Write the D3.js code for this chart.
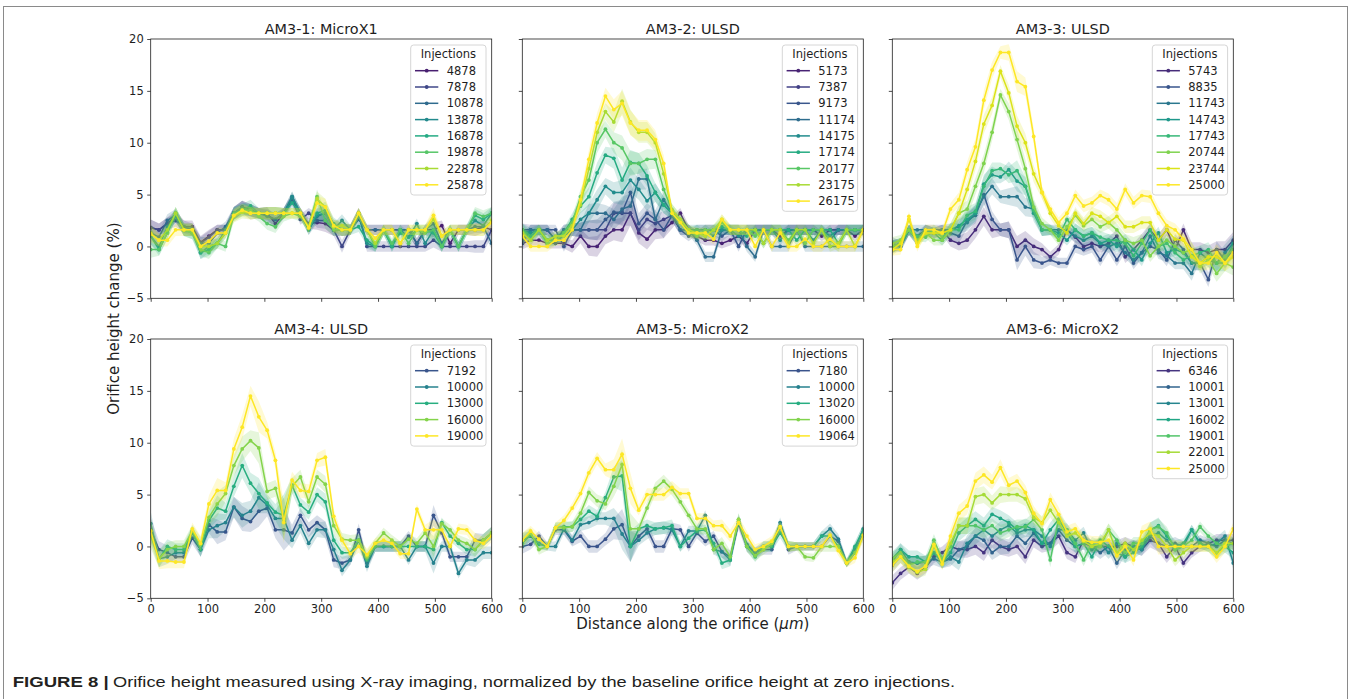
<!DOCTYPE html>
<html>
<head>
<meta charset="utf-8">
<script src="https://cdn.jsdelivr.net/npm/d3@7"></script>
<style>
  body { margin: 0; background: #fff; }
  svg text { font-family: "DejaVu Sans", sans-serif; fill: #1e1e1e; }
  svg text.caption { font-family: "Liberation Sans Narrow", "Liberation Sans", Arial, sans-serif; fill: #231f20; }
</style>
</head>
<body>
<svg id="chart" width="1351" height="699"></svg>
<script>
// Sample positions along the orifice (um), shared by every panel.
const distance = [0,14.6,29.3,43.9,58.5,73.2,87.8,102.4,117.1,131.7,146.3,161.0,175.6,190.2,204.9,219.5,234.1,248.8,263.4,278.0,292.7,307.3,322.0,336.6,351.2,365.9,380.5,395.1,409.8,424.4,439.0,453.7,468.3,482.9,497.6,512.2,526.8,541.5,556.1,570.7,585.4,600.0];

const panelTitles = ["AM3-1: MicroX1", "AM3-2: ULSD", "AM3-3: ULSD", "AM3-4: ULSD", "AM3-5: MicroX2", "AM3-6: MicroX2"];
const xTicks = [0, 100, 200, 300, 400, 500, 600];
const yTicks = [-5, 0, 5, 10, 15, 20];

// AM3-1
const am31Injections = [4878, 7878, 10878, 13878, 16878, 19878, 22878, 25878];
const am31Values = [
  [1.8,1.6,2.2,2.9,1.9,1.9,0.4,1.0,1.6,1.6,3.2,3.8,3.5,3.2,3.2,2.2,3.2,4.5,3.2,2.2,2.3,2.2,1.6,1.6,1.6,3.2,1.6,1.6,1.6,1.6,1.6,1.6,0.3,1.6,1.6,2.0,0.3,1.6,1.6,1.6,1.9,1.6],
  [1.8,1.6,2.2,2.5,1.9,1.6,0.3,0.9,1.6,1.6,3.2,3.8,3.5,3.2,3.0,2.6,3.2,4.5,2.6,3.2,2.5,2.5,1.6,0.0,1.6,3.2,0,0,0,0,0,0,0,0,0.6,0,0,0,0,0,0,1.6],
  [1.3,0.9,2.5,3.0,1.6,1.6,0.3,0.3,1.3,1.9,3.2,3.8,3.2,3.2,2.9,2.6,3.2,4.8,3.2,1.6,2.9,3.2,2.0,1.6,1.6,2.6,1.6,1.6,1.6,1.6,1.6,1.6,0.3,1.6,2.2,0.3,1.6,1.6,1.6,1.9,1.9,0.3],
  [1.0,0.0,1.9,2.9,1.6,1.6,-0.6,0.0,0.3,1.6,3.2,3.6,3.5,3.2,3.2,3.2,3.2,4.8,3.2,1.9,3.0,3.2,1.6,2.5,1.6,3.0,0.3,0.0,1.6,0.0,1.6,0.9,2.2,0.3,1.6,0.0,1.6,0.0,1.6,2.5,2.0,3.2],
  [1.0,-0.3,1.3,3.2,1.6,1.3,-0.6,-0.3,0.3,1.3,3.2,3.5,3.9,3.2,3.2,3.2,3.2,4.2,3.2,1.6,3.2,3.5,2.2,1.6,1.6,1.9,0.6,0.0,1.6,0.0,1.3,0.9,1.6,1.6,1.3,0.0,1.6,0.0,1.6,3.0,2.6,3.2],
  [-0.3,-0.3,1.3,3.2,1.6,1.3,-0.3,-0.6,0.3,0.0,3.0,3.5,3.5,2.9,2.2,1.9,2.9,3.2,2.9,2.0,4.8,2.5,1.6,1.6,1.6,3.2,1.6,0.0,1.6,0.3,1.6,0.3,1.6,1.3,1.6,0.0,1.6,0.0,1.6,3.2,2.9,3.2],
  [1.3,0.6,1.6,3.2,1.6,1.6,0.0,0.0,0.3,1.3,2.9,3.3,3.2,3.2,3.2,3.2,3.2,3.2,3.2,1.8,4.6,3.8,1.9,2.0,1.6,3.2,1.6,0.3,1.6,1.6,0.3,1.6,1.6,1.6,2.6,1.0,1.6,1.6,1.6,1.6,1.6,2.5],
  [1.2,0.6,0.6,1.6,1.6,1.6,0.0,0.5,1.3,1.3,3.0,3.5,3.2,3.2,3.2,3.2,3.2,3.2,3.2,1.8,4.2,3.8,2.0,1.6,1.6,3.2,1.6,0.8,1.6,1.6,0.3,1.6,1.6,1.6,3.0,1.0,1.6,1.6,1.6,1.6,1.6,2.3]
];
const am31Spread = [0.8,0.6,0.6,0.6,0.6,0.6,0.6,0.6,0.5,0.5,0.6,0.6,0.6,0.5,0.6,0.6,0.5,0.5,0.5,0.5,0.7,0.8,0.6,0.6,0.5,0.5,0.5,0.5,0.5,0.5,0.5,0.5,0.5,0.5,0.7,0.5,0.5,0.5,0.5,0.6,0.6,0.6];

// AM3-2
const am32Injections = [5173, 7387, 9173, 11174, 14175, 17174, 20177, 23175, 26175];
const am32Values = [
  [0.3,0.6,0.6,0.3,0.3,0.3,0.0,1.0,0.0,0.0,1.0,1.6,1.6,3.2,1.3,0.7,1.6,1.6,2.3,3.2,1.6,1.0,0.6,0.6,0.3,0.6,1.0,0.3,1.6,1.6,1.6,1.0,1.6,1.6,1.6,1.6,1.0,1.6,1.6,1.6,1.0,1.6],
  [1.6,1.6,1.6,1.6,0.6,1.6,1.6,1.6,1.6,1.6,1.6,3.2,3.2,3.2,1.6,2.6,2.2,2.6,3.0,1.6,1.6,1.0,1.6,1.6,1.6,1.6,1.6,1.6,1.6,1.6,1.6,1.6,1.6,1.6,1.6,1.6,1.6,1.6,1.6,1.6,1.6,1.6],
  [0.3,1.6,1.6,1.6,1.6,0.0,1.6,1.6,1.6,1.6,2.6,3.3,3.3,5.2,2.2,3.2,2.6,1.6,3.0,1.6,1.0,1.6,1.6,1.6,1.0,1.6,0.0,1.6,1.6,1.6,1.6,1.6,1.6,1.6,1.6,1.6,1.6,0.6,1.6,1.6,1.6,1.6],
  [0.6,1.6,1.6,1.6,0.6,1.6,1.6,1.6,3.2,3.2,3.2,2.6,3.6,3.9,6.5,6.5,2.6,4.5,3.2,1.6,1.6,0.6,-1.0,-1.0,1.6,1.6,1.6,0.0,-1.0,1.6,0.0,0.0,0.0,1.6,0.0,0.0,0.0,0.0,0.0,0.0,0.0,0.0],
  [1.6,1.3,1.6,0.6,0.6,1.0,1.6,2.6,3.2,4.5,5.8,5.2,5.2,6.4,5.5,4.4,5.2,4.0,3.2,2.3,1.6,1.6,1.6,1.0,1.6,1.6,1.0,1.6,1.6,1.6,1.6,0.6,1.6,1.6,1.6,0.6,1.6,1.0,1.6,1.6,1.6,1.6],
  [1.6,1.0,1.6,0.6,0.6,1.3,2.6,3.9,4.8,7.1,8.8,8.5,6.4,8.1,8.0,6.8,5.2,4.0,3.2,2.3,1.3,1.6,1.0,1.6,1.9,1.6,1.6,1.0,1.6,0.3,1.6,1.6,1.6,0.6,1.6,1.6,1.6,1.6,0.3,1.6,1.6,1.6],
  [1.6,0.6,1.6,0.3,0.6,1.3,2.3,4.8,6.4,10.0,11.3,10.0,9.5,8.0,8.0,8.4,8.4,5.5,3.5,2.6,1.6,1.0,1.6,1.6,2.3,1.6,1.6,1.6,1.0,1.6,1.6,1.6,0.6,1.6,0.3,1.6,1.6,0.6,0.0,1.6,1.6,1.6],
  [1.3,0.6,1.6,0.6,1.0,1.0,2.0,4.0,7.5,11.0,13.0,12.0,14.0,12.0,11.0,11.0,10.0,7.0,3.5,2.6,1.6,1.3,1.0,1.6,2.6,1.6,1.6,1.6,1.6,0.3,1.6,1.6,0.3,1.6,1.6,0.3,1.6,0.0,0.3,1.6,0.0,1.6],
  [1.0,0.0,0.0,0.0,0.6,0.6,1.6,4.5,8.4,11.9,14.5,13.2,13.8,11.9,11.2,11.2,10.3,8.0,3.2,2.3,1.3,1.3,1.3,0.7,2.6,1.6,1.6,1.6,0.0,1.6,0.0,1.3,0.0,0.0,0.7,0.0,0.0,0.7,0.0,0.0,0.0,1.6]
];
const am32Spread = [0.6,0.5,0.5,0.5,0.5,0.5,0.6,0.7,0.9,1.0,0.8,1.0,1.2,1.2,1.0,1.0,0.9,0.8,0.6,0.5,0.5,0.5,0.5,0.5,0.5,0.5,0.5,0.5,0.5,0.5,0.5,0.5,0.5,0.5,0.5,0.5,0.5,0.5,0.5,0.5,0.5,0.5];

// AM3-3
const am33Injections = [5743, 8835, 11743, 14743, 17743, 20744, 23744, 25000];
const am33Values = [
  [0.0,0.3,1.6,0.6,1.6,1.3,1.6,0.6,0.3,0.6,1.6,2.9,1.6,1.6,1.6,0.0,0.6,0.0,-0.3,-1.0,-0.3,1.6,0.9,0.0,0.3,0.0,0.3,1.0,-1.0,-0.3,0.6,1.6,0.6,1.6,-0.3,1.6,-0.3,-0.3,-0.6,-0.3,-0.3,0.6],
  [0.3,0.0,1.6,1.0,1.6,1.6,1.6,1.3,1.0,2.5,3.0,5.0,2.6,1.6,1.6,-1.3,0.0,-1.3,-1.6,-1.3,-1.6,-1.6,0.0,-0.3,0.0,-1.3,0.0,-1.3,0.0,-1.6,-0.6,0.0,-0.3,-1.3,0.6,-0.3,-1.6,-1.6,-3.2,-0.3,-1.3,-0.3],
  [0.0,0.0,1.6,1.6,1.6,1.3,1.6,1.6,1.9,2.3,3.2,4.8,5.8,4.8,4.8,4.8,3.8,3.6,1.6,1.6,1.6,1.6,1.0,0.6,1.0,0.3,0.0,0.3,-0.6,-1.3,-0.6,1.0,-0.6,-0.9,-1.6,-1.6,-2.6,-0.6,-1.3,-1.6,-0.6,0.3],
  [0.0,0.3,1.6,0.6,1.6,1.3,0.6,1.6,2.0,2.6,3.2,6.0,6.9,6.7,7.4,6.3,5.8,3.2,1.6,1.6,1.3,0.6,1.6,1.0,1.3,0.3,0.6,0.0,0.6,-0.3,-1.3,0.3,1.3,-0.6,-0.3,-0.6,-1.6,-1.6,-1.0,-1.6,-1.6,0.3],
  [0.0,0.3,1.6,1.0,0.9,1.6,0.9,1.6,1.6,3.0,3.4,5.8,7.3,7.5,6.9,7.3,5.8,3.5,1.6,1.6,1.0,2.6,1.6,1.0,1.3,0.9,0.6,0.6,0.3,-0.9,0.3,1.6,0.0,0.3,-0.6,-1.3,-0.9,-0.6,-0.3,-1.6,-1.0,-0.3],
  [0.3,0.6,1.6,0.6,1.3,0.6,0.6,1.6,3.2,3.6,5.8,8.0,11.0,14.6,13.0,10.3,7.5,3.8,2.2,1.6,0.6,1.9,3.0,2.0,2.6,1.9,2.3,1.6,0.6,0.3,0.6,-0.9,0.0,0.6,0.0,-0.6,-0.3,-1.9,-1.3,-2.6,-1.6,-2.0],
  [-0.3,0.3,2.6,0.3,1.3,1.3,1.3,1.6,3.2,5.5,8.2,11.8,13.6,16.9,14.8,11.6,10.0,7.0,5.2,3.2,2.0,1.3,3.2,2.2,3.2,2.9,2.3,2.9,1.9,1.9,2.3,2.3,0.6,1.6,0.7,0.6,-1.0,-1.6,-1.0,-1.0,-1.6,-1.0],
  [-0.3,-0.3,2.9,0.0,1.6,1.6,1.3,3.6,4.5,7.4,9.6,14.1,17.0,18.7,18.7,15.9,15.4,10.6,5.2,3.6,2.3,3.2,4.9,3.9,4.2,4.9,4.5,3.6,5.5,4.2,4.9,4.8,3.2,2.0,1.6,0.7,-0.3,-1.6,-1.6,-0.6,-1.6,-0.6]
];
const am33Spread = [0.6,0.5,0.5,0.5,0.5,0.5,0.5,0.6,0.7,0.8,0.8,0.9,0.8,0.6,0.8,1.0,0.9,0.8,0.6,0.5,0.5,0.5,0.6,0.6,0.6,0.6,0.6,0.6,0.6,0.6,0.6,0.6,0.6,0.6,0.6,0.6,0.7,0.7,0.7,0.8,0.8,0.8];

// AM3-4
const am34Injections = [7192, 10000, 13000, 16000, 19000];
const am34Values = [
  [1.6,-0.3,-0.6,-1.0,-1.0,0.8,-0.3,2.1,1.4,1.4,3.8,2.7,2.4,3.4,3.7,1.6,1.6,1.3,3.0,1.6,2.3,1.6,-1.3,-1.6,-1.3,1.6,-1.6,0.0,0.0,0.0,0.0,1.0,0.0,0.0,3.0,1.3,-1.0,-1.0,-1.0,0.6,0.6,1.3],
  [2.2,-1.2,-1.0,-0.6,-0.6,1.3,-0.3,1.6,2.0,2.3,3.8,3.0,3.4,4.7,4.0,2.7,2.7,0.6,2.0,0.3,1.6,1.6,-0.3,-2.3,-1.3,0.6,-1.9,0.0,0.0,0.0,0.0,-1.3,0.0,0.0,-1.6,0.0,0.0,-2.6,-1.3,-1.3,-0.6,-0.6],
  [1.5,-1.2,0.0,-0.3,-0.3,1.4,-0.3,2.5,3.7,3.4,5.8,7.8,6.1,5.1,4.2,3.3,3.0,5.9,4.0,3.3,5.0,4.3,0.6,-0.6,-0.6,0.6,-1.3,0.0,0.0,0.0,0.0,0.0,0.0,0.0,-0.3,2.3,1.0,0.3,-0.3,-0.3,0.6,1.3],
  [1.0,-1.2,-0.3,0.0,0.0,1.5,0.2,2.8,4.1,5.1,7.8,9.4,10.2,9.5,5.3,5.6,2.6,5.8,6.7,4.3,6.7,6.0,2.0,0.7,0.6,0.6,-1.0,0.3,1.3,0.6,0.0,0.7,0.3,1.3,0.0,2.2,1.6,0.6,0.3,-0.3,0.6,1.3],
  [1.5,-1.4,-1.4,-1.5,-1.5,1.7,0.3,4.1,5.4,5.4,9.4,11.5,14.5,12.5,11.2,8.3,2.3,6.4,5.4,5.3,8.3,8.6,2.9,0.6,-0.7,0.0,-0.8,0.3,0.6,0.3,-0.7,-0.7,3.6,1.6,1.6,1.6,0.0,1.7,1.6,0.6,0.3,1.0]
];
const am34Spread = [1.2,0.8,0.7,0.6,0.6,0.6,0.7,0.8,1.2,0.8,1.0,1.2,1.0,1.5,0.8,0.8,2.0,0.8,0.7,0.7,0.7,0.8,0.7,0.6,0.5,0.6,0.6,0.5,0.5,0.5,0.5,0.5,0.5,0.5,1.0,0.5,0.5,0.5,0.5,0.7,0.6,0.6];

// AM3-5
const am35Injections = [7180, 10000, 13020, 16000, 19064];
const am35Values = [
  [0,0.2,1.0,0,1.6,1.6,0.5,1.0,0,0,0.7,1.7,2.1,0,1.0,1.7,0,0,1.7,1.6,0,1.3,0.5,1.0,-0.5,-1.0,2.2,0,-0.6,-0.3,-0.3,1.9,-0.3,0,0,0,0,1.0,0.5,-1.6,-0.6,1.3],
  [0.6,1.0,0.3,0,0,1.7,0.6,2.1,2.3,2.7,2.7,2.7,1.2,0,0.6,1.3,1.7,1.8,1.6,0,1.5,1.5,3.0,-0.3,-0.5,-1.3,2.4,0.2,-0.6,0,0,2.3,0,0,0,0,1.0,1.7,0.7,-1.6,-0.2,1.7],
  [0.3,1.1,0.2,0,1.8,1.9,1.9,2.6,3.4,2.9,4.7,6.7,6.8,0,1.7,2.0,1.7,1.8,2.0,0,0.8,1.5,1.6,0.3,-1.6,-1.3,2.6,0,-1.0,0,0,1.3,0,0,0,0,1.0,1.0,0,-1.6,0,1.6],
  [0.6,1.3,-0.3,0,1.8,1.8,1.9,3.2,5.2,4.4,4.1,5.8,7.9,1.7,1.7,3.7,5.6,6.3,5.5,4.3,3.0,1.7,1.7,-0.3,0.3,-1.0,2.6,0,-0.9,-0.3,0.3,1.9,0,0,-1.0,-1.1,0,0,0,-1.6,-0.6,1.0],
  [0.6,1.5,0.7,0,1.8,2.5,3.7,5.1,7.1,8.5,7.4,7.4,8.9,5.6,3.5,5.0,5.0,5.0,5.7,5.1,5.1,2.7,2.7,2.0,2.0,1.0,2.3,1.0,-0.3,0,0.5,1.9,0,0,0,0,0,1.1,-0.4,-1.6,-1.1,1.1]
];
const am35Spread = [0.7,0.5,0.5,0.4,0.5,0.5,0.5,0.6,0.6,0.6,0.6,1.0,1.5,1.5,0.5,0.6,0.6,0.6,0.6,0.5,0.5,0.5,0.5,0.5,0.6,0.6,0.6,0.5,0.5,0.5,0.5,0.5,0.5,0.4,0.4,0.4,0.5,0.5,0.5,0.4,0.5,0.5];

// AM3-6
const am36Injections = [6346, 10001, 13001, 16002, 19001, 22001, 25000];
const am36Values = [
  [-3.5,-2.6,-2.0,-2.6,-2.0,-1.0,-0.6,0.0,-0.3,-0.3,0.0,-0.6,0.6,0.0,-0.3,0.0,-1.0,0.6,0.0,0.3,1.0,-0.6,-1.0,0.6,0.0,0.0,0.0,0.0,0.3,0.0,-0.3,0.6,0.3,-1.0,0.0,-1.6,-0.6,0.0,0.3,0.6,0.6,0.6],
  [-1.8,-1.0,-1.6,-1.6,-1.5,-1.2,-1.5,-1.2,-0.3,0.0,1.0,0.6,-0.6,0.0,0.0,1.0,0.3,1.3,0.3,0.3,1.6,0.6,0.0,0.3,0.0,-0.6,0.0,-1.6,-0.3,0.0,0.0,1.0,0.3,0.0,0.3,0.0,0.0,0.6,0.3,0.0,0.6,0.3],
  [-1.5,-0.3,-1.5,-1.6,-1.5,-0.6,-1.5,-1.0,-1.5,0.3,1.0,1.6,1.0,1.6,2.0,1.3,1.6,1.6,1.0,0.0,1.6,1.6,0.6,1.3,-0.3,0.3,-0.6,0.3,-1.0,0.0,-0.3,1.0,1.3,0.6,-0.3,0.0,1.6,0.3,0.0,0.3,1.0,-1.6],
  [-1.2,-0.3,-1.0,-1.0,-1.5,-0.6,-1.5,-0.6,1.3,2.0,2.6,2.0,3.1,2.7,2.3,1.6,2.0,1.6,0.3,1.6,2.6,1.3,0.0,0.3,-1.0,0.6,0.0,-0.6,-1.0,-0.6,0.0,1.6,2.0,1.0,0.0,0.3,1.6,0.3,0.0,-0.6,0.0,-0.6],
  [-1.2,-0.6,-1.8,-1.5,-1.5,0.6,-1.2,0.0,2.0,2.0,2.0,1.6,2.0,1.3,1.6,1.9,1.9,2.6,1.6,-1.3,2.6,1.6,0.3,-1.3,0.3,0.0,1.6,0.6,-0.6,0.3,0.3,1.6,1.9,1.3,-0.3,0.0,0.6,1.9,1.0,0.3,0.0,0.3],
  [-1.5,-1.0,-2.0,-2.5,-2.2,0.0,-1.6,0.3,2.0,2.0,4.8,5.0,4.2,5.0,5.0,5.0,4.6,2.8,2.3,3.5,2.3,1.0,1.3,0.5,0.0,0.3,1.6,-0.6,0.3,-0.3,0.6,1.3,1.0,0.0,-1.3,-0.6,0.0,0.0,0.0,-0.6,0.3,0.3],
  [-1.8,-1.0,-1.9,-2.4,-1.9,0.2,-1.7,1.0,3.2,3.9,6.3,6.9,6.2,7.6,5.9,6.3,5.2,3.2,2.2,4.5,3.1,1.4,1.7,0.6,0.4,0.4,0.6,-0.9,0.0,-1.3,1.4,1.7,0.0,0.0,0.0,0.0,0.0,0.0,0.0,-1.0,0.0,1.7]
];
const am36Spread = [0.7,0.6,0.6,0.6,0.6,0.6,0.6,0.7,0.8,0.8,0.8,0.8,0.7,0.8,0.7,0.7,0.7,0.7,0.6,0.7,0.7,0.6,0.6,0.6,0.6,0.6,0.6,0.6,0.6,0.6,0.6,0.7,0.8,0.6,0.6,0.5,0.5,0.5,0.5,0.6,0.6,0.6];

const panels = [
  {title: panelTitles[0], injections: am31Injections, values: am31Values, spread: am31Spread},
  {title: panelTitles[1], injections: am32Injections, values: am32Values, spread: am32Spread},
  {title: panelTitles[2], injections: am33Injections, values: am33Values, spread: am33Spread},
  {title: panelTitles[3], injections: am34Injections, values: am34Values, spread: am34Spread},
  {title: panelTitles[4], injections: am35Injections, values: am35Values, spread: am35Spread},
  {title: panelTitles[5], injections: am36Injections, values: am36Values, spread: am36Spread}
];

// Layout (px).
const panelW = 341, panelH = 259.3;
const colX = [150.7, 522.3, 892.3];
const rowY = [39, 339];
const tickFont = 11.5;
const ink = "#1e1e1e";

const svg = d3.select("#chart");

// Outer frame of the figure page.
svg.append("rect")
  .attr("x", 3.5).attr("y", 6.5)
  .attr("width", 1344).attr("height", 720)
  .attr("fill", "none").attr("stroke", "#8a8a8a").attr("stroke-width", 1);

const minus = (d) => d < 0 ? "\u2212" + Math.abs(d) : String(d);

panels.forEach((p, idx) => {
  const col = idx % 3, row = Math.floor(idx / 3);
  const g = svg.append("g").attr("transform", `translate(${colX[col]}, ${rowY[row]})`);

  const x = d3.scaleLinear().domain([0, 600]).range([0, panelW]);
  const y = d3.scaleLinear().domain([-5, 20]).range([panelH, 0]);

  const clipId = "clip" + idx;
  g.append("clipPath").attr("id", clipId)
    .append("rect").attr("width", panelW).attr("height", panelH);

  // Colours follow the injection count within each panel.
  const maxInj = d3.max(p.injections);
  const color = (inj) => d3.interpolateViridis((inj - 3000) / (maxInj - 3000));

  const plot = g.append("g").attr("clip-path", `url(#${clipId})`);

  p.values.forEach((vals, k) => {
    const c = color(p.injections[k]);
    const area = d3.area()
      .x((d, i) => x(distance[i]))
      .y0((d, i) => y(d - p.spread[i]))
      .y1((d, i) => y(d + p.spread[i]));
    const line = d3.line()
      .x((d, i) => x(distance[i]))
      .y((d) => y(d));
    plot.append("path")
      .attr("d", area(vals))
      .attr("fill", c).attr("fill-opacity", 0.2).attr("stroke", "none");
    plot.append("path")
      .attr("d", line(vals))
      .attr("fill", "none").attr("stroke", c).attr("stroke-width", 1.5)
      .attr("stroke-linejoin", "round");
    plot.selectAll(null).data(vals).enter().append("circle")
      .attr("cx", (d, i) => x(distance[i]))
      .attr("cy", (d) => y(d))
      .attr("r", 1.9)
      .attr("fill", c);
  });

  // Axes.
  const yAxis = d3.axisLeft(y).tickValues(yTicks).tickSizeInner(3.5).tickSizeOuter(0).tickPadding(3.5)
    .tickFormat(col === 0 ? minus : () => "");
  const xAxis = d3.axisBottom(x).tickValues(xTicks).tickSizeInner(3.5).tickSizeOuter(0).tickPadding(3.5)
    .tickFormat(row === 1 ? minus : () => "");
  const gy = g.append("g").call(yAxis);
  const gx = g.append("g").attr("transform", `translate(0, ${panelH})`).call(xAxis);
  [gx, gy].forEach((ax) => {
    ax.select(".domain").remove();
    ax.selectAll("line").attr("stroke", ink).attr("stroke-width", 0.8);
    ax.selectAll("text").attr("font-size", tickFont).attr("fill", ink);
  });

  // Spines.
  g.append("rect")
    .attr("width", panelW).attr("height", panelH)
    .attr("fill", "none").attr("stroke", ink).attr("stroke-width", 0.8);

  // Title.
  g.append("text")
    .attr("x", panelW / 2).attr("y", -5)
    .attr("text-anchor", "middle")
    .attr("font-size", 14.4)
    .text(p.title);

  // Legend.
  const n = p.injections.length;
  const legW = 75.3, legH = 19.6 + n * 16.3;
  const leg = g.append("g").attr("transform", `translate(${panelW - 5.7 - legW}, 6)`);
  leg.append("rect")
    .attr("width", legW).attr("height", legH)
    .attr("rx", 3).attr("fill", "#fff").attr("fill-opacity", 0.8)
    .attr("stroke", "#d6d6d6").attr("stroke-width", 1);
  leg.append("text")
    .attr("x", legW / 2).attr("y", 12.5)
    .attr("text-anchor", "middle")
    .attr("font-size", tickFont)
    .text("Injections");
  p.injections.forEach((inj, k) => {
    const cy = 25.7 + k * 16.3;
    const c = color(inj);
    leg.append("line")
      .attr("x1", 4.3).attr("x2", 27.6).attr("y1", cy).attr("y2", cy)
      .attr("stroke", c).attr("stroke-width", 1.5);
    leg.append("circle")
      .attr("cx", 16).attr("cy", cy).attr("r", 1.9).attr("fill", c);
    leg.append("text")
      .attr("x", 36).attr("y", cy).attr("dy", "0.36em")
      .attr("font-size", tickFont)
      .text(inj);
  });
});

// Shared axis labels.
svg.append("text")
  .attr("transform", `translate(119, ${(rowY[0] + rowY[1] + panelH) / 2}) rotate(-90)`)
  .attr("text-anchor", "middle")
  .attr("font-size", 15)
  .text("Orifice height change (%)");

const xLab = svg.append("text")
  .attr("x", colX[1] + panelW / 2).attr("y", 629)
  .attr("text-anchor", "middle")
  .attr("font-size", 15);
xLab.append("tspan").text("Distance along the orifice (");
xLab.append("tspan").attr("font-style", "italic").text("\u03bcm");
xLab.append("tspan").text(")");

// Caption.
svg.append("text")
  .attr("class", "caption")
  .attr("x", 12.7).attr("y", 687)
  .attr("font-weight", "bold")
  .attr("font-size", 14.5)
  .attr("textLength", 96).attr("lengthAdjust", "spacingAndGlyphs")
  .text("FIGURE 8 |");
svg.append("text")
  .attr("class", "caption")
  .attr("x", 113).attr("y", 687)
  .attr("font-size", 14.5)
  .attr("textLength", 842).attr("lengthAdjust", "spacingAndGlyphs")
  .text("Orifice height measured using X-ray imaging, normalized by the baseline orifice height at zero injections.");
</script>
</body>
</html>
